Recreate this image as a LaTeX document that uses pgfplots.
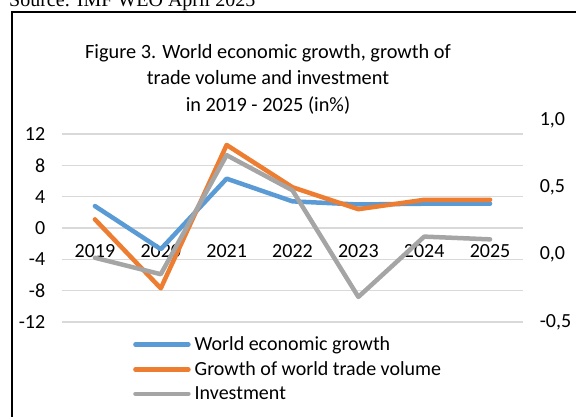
\documentclass[border=0pt]{standalone}
\usepackage{pgfplots}
\pgfplotsset{compat=1.18}
\usepackage{fontspec}
\setmainfont{Carlito}
\newfontfamily\timesfont{Liberation Serif}
\definecolor{cblue}{HTML}{5B9BD5}
\definecolor{corange}{HTML}{ED7D31}
\definecolor{cgray}{HTML}{A5A5A5}
\definecolor{gridgray}{HTML}{D9D9D9}
\newcommand{\bigf}{\fontsize{20}{24}\selectfont}
\begin{document}
\begin{tikzpicture}[x=1pt,y=1pt]
\useasboundingbox (0,0) rectangle (576,417);
\begin{scope}
\clip (0,0) rectangle (576,417);
% source line (partly cut off)
\node[anchor=base west, inner sep=0pt, font=\timesfont\fontsize{20}{24}\selectfont] at (9,410) {Source: IMF WEO April 2025};
% frame
\draw[line width=2.4pt] (11.7,-20) -- (11.7,405) -- (620,405);
\end{scope}
% title
\node[anchor=north, align=center, inner sep=0pt, font=\fontsize{20.3}{26.5}\selectfont] at (268,373)
  {Figure 3. World economic growth, growth of\\ trade volume and investment\\ in 2019 - 2025 (in\%)};
\begin{axis}[
  at={(62pt,95pt)}, anchor=south west,
  scale only axis, width=461pt, height=188pt,
  xmin=-0.5, xmax=6.5, ymin=-12, ymax=12,
  xtick={0,1,2,3,4,5,6},
  xticklabels={2019,2020,2021,2022,2023,2024,2025},
  ytick={-12,-8,-4,0,4,8,12},
  yticklabels={-12,-8,-4,0,4,8,12},
  ymajorgrids,
  major grid style={draw=gridgray, line width=1.3pt},
  axis line style={draw=none},
  major tick length=0pt,
  tick label style={font=\bigf},
  yticklabel style={xshift=-13.3pt},
  xticklabel style={yshift=80.7pt},
  clip=false,
  legend style={at={(0.154,-0.078)}, anchor=north west, draw=none, fill=none,
    inner sep=0pt, font=\bigf, row sep=9.5pt,
    nodes={inner sep=0pt, anchor=west}},
  legend cell align=left,
  legend image code/.code={\draw[#1, line width=4.5pt, line cap=round] (2pt,0pt) -- (55pt,0pt);},
  every axis plot/.append style={line width=4.5pt, line join=round, line cap=round},
]
\addplot[cblue] coordinates {(0,2.8) (1,-2.7) (2,6.3) (3,3.4) (4,3.0) (5,3.1) (6,3.1)};
\addlegendentry{\hspace{4pt}World economic growth}
\addplot[corange] coordinates {(0,1.1) (1,-7.7) (2,10.6) (3,5.2) (4,2.4) (5,3.6) (6,3.6)};
\addlegendentry{\hspace{4pt}Growth of world trade volume}
\addplot[cgray] coordinates {(0,-3.8) (1,-5.9) (2,9.3) (3,4.8) (4,-8.8) (5,-1.1) (6,-1.45)};
\addlegendentry{\hspace{4pt}Investment}
\end{axis}
\begin{axis}[
  at={(62pt,95pt)}, anchor=south west,
  scale only axis, width=461pt, height=202pt,
  xmin=-0.5, xmax=6.5, ymin=-0.5, ymax=1.0,
  xtick=\empty,
  ytick={-0.5,0,0.5,1},
  yticklabels={{-0,5},{0,0},{0,5},{1,0}},
  yticklabel pos=right,
  axis line style={draw=none},
  major tick length=0pt,
  tick label style={font=\bigf},
  yticklabel style={anchor=west, xshift=13.3pt},
]
\addplot[draw=none] coordinates {(0,0)};
\end{axis}
\end{tikzpicture}
\end{document}
